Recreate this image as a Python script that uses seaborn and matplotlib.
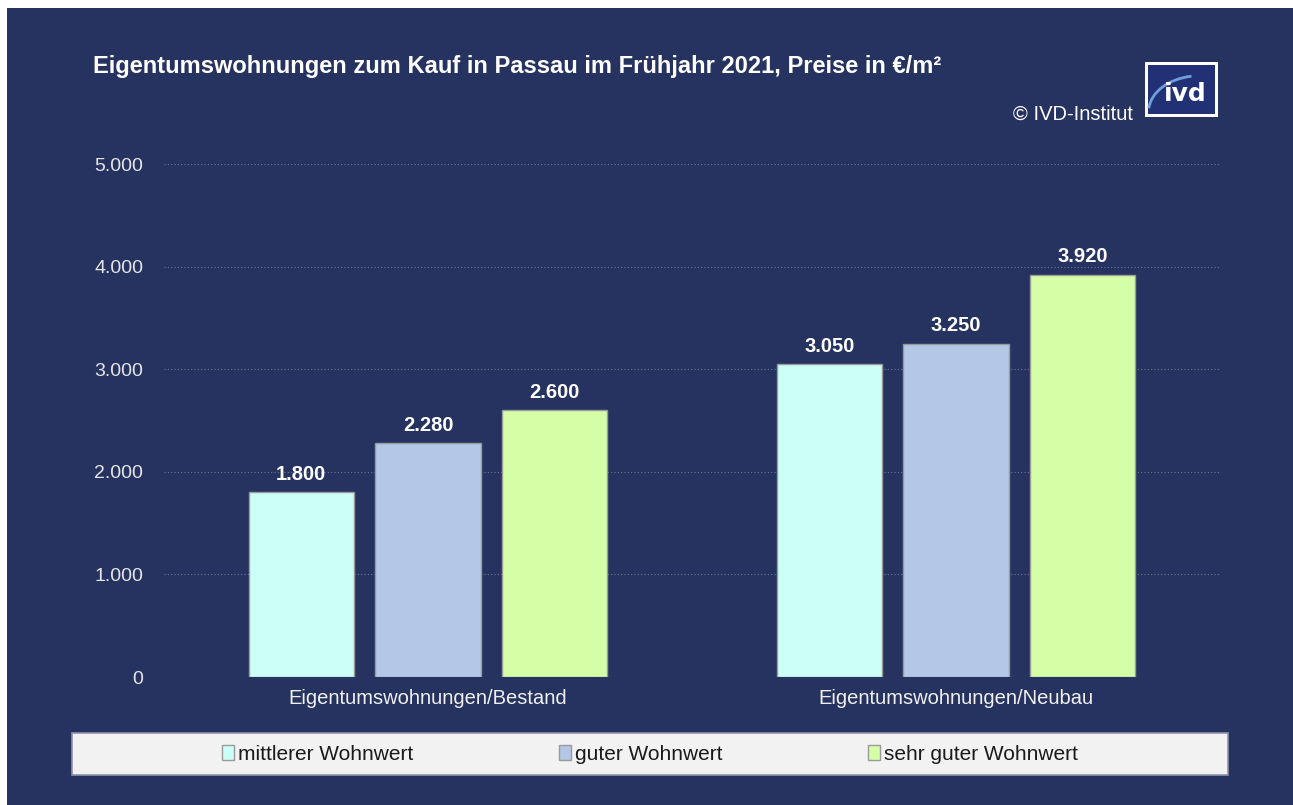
import pandas as pd
import seaborn as sns
import matplotlib.pyplot as plt
from matplotlib.patches import Rectangle, Arc

# data
categories = ["Eigentumswohnungen/Bestand", "Eigentumswohnungen/Neubau"]
wohnwert = ["mittlerer Wohnwert", "guter Wohnwert", "sehr guter Wohnwert"]
mittlerer = [1800, 3050]
guter = [2280, 3250]
sehr_guter = [2600, 3920]
yticks = [0, 1000, 2000, 3000, 4000, 5000]

colors = ["#ccfff7", "#b4c7e7", "#d5ffa6"]
bg = "#263360"
W, H = 1293, 805

df = pd.DataFrame({
    "kategorie": categories * 3,
    "wohnwert": [w for w in wohnwert for _ in categories],
    "preis": mittlerer + guter + sehr_guter,
})

sns.set_style("white")
plt.rcParams["font.family"] = ["Liberation Sans", "DejaVu Sans"]

fig = plt.figure(figsize=(W / 100, H / 100), dpi=100, facecolor="white")
# dark panel (the screenshot has a thin white margin top/left)
fig.patches.append(Rectangle((7 / W, 0), 1 - 7 / W, 1 - 8 / H, transform=fig.transFigure,
                             facecolor=bg, edgecolor="none", zorder=-10))

def px(x0, y0, x1, y1):
    return [x0 / W, 1 - y1 / H, (x1 - x0) / W, (y1 - y0) / H]

ax = fig.add_axes(px(164, 164, 1220, 677))
ax.set_facecolor(bg)
sns.barplot(data=df, x="kategorie", y="preis", hue="wohnwert", hue_order=wohnwert,
            palette=colors, saturation=1, width=0.72, gap=0.167, edgecolor="#9a9a9a",
            linewidth=1, ax=ax, zorder=3)
ax.set_xlim(-0.5, 1.5)
ax.set_ylim(0, 5000)
ax.set_yticks(yticks)
ax.set_yticklabels([f"{v:,}".replace(",", ".") for v in yticks])
ax.grid(axis="y", color="#6b7794", linestyle=(0, (1, 2)), linewidth=0.8, zorder=0)
ax.set_xlabel("")
ax.set_ylabel("")
for s in ax.spines.values():
    s.set_visible(False)
ax.tick_params(axis="y", colors="#e6e6e6", labelsize=14, length=0, pad=15)
ax.tick_params(axis="x", colors="#f0f0f0", labelsize=14.5, length=0, pad=9)

for c in ax.containers:
    ax.bar_label(c, labels=[f"{v:,.0f}".replace(",", ".") for v in c.datavalues],
                 color="white", fontweight="bold", fontsize=14.5, padding=6)

handles, labels = ax.get_legend_handles_labels()
ax.get_legend().remove()

# legend band
fig.patches.append(Rectangle((72 / W, 1 - 775 / H), (1228 - 72) / W, 42 / H,
                             transform=fig.transFigure, facecolor="#f2f2f2",
                             edgecolor="#8e93a8", linewidth=1.2, zorder=1))
leg = fig.legend(handles, labels, loc="center", bbox_to_anchor=(650 / W, 1 - 754 / H),
                 ncol=3, frameon=False, fontsize=15, handlelength=0.55, handleheight=0.75,
                 handletextpad=0.2, columnspacing=7.0)
for t in leg.get_texts():
    t.set_color("#1a1a1a")

fig.text(93 / W, 1 - 66 / H, "Eigentumswohnungen zum Kauf in Passau im Frühjahr 2021, Preise in €/m²",
         color="white", fontsize=17, fontweight="bold", va="center", ha="left")
fig.text(1133 / W, 1 - 114 / H, "© IVD-Institut", color="white", fontsize=14.5,
         va="center", ha="right")

# ivd logo
lax = fig.add_axes(px(1145, 62, 1218, 117))
lax.set_xlim(0, 1)
lax.set_ylim(0, 1)
lax.axis("off")
lax.add_patch(Rectangle((0, 0), 1, 1, facecolor="white", edgecolor="none"))
lax.add_patch(Rectangle((0.04, 0.05), 0.92, 0.9, facecolor="#223075", edgecolor="none"))
lax.add_patch(Arc((0.75, 0.1), 1.4, 1.3, theta1=100, theta2=175, color="#6f9fd8", linewidth=2))
lax.text(0.55, 0.42, "ivd", color="white", fontsize=18, fontweight="bold",
         ha="center", va="center", family="DejaVu Sans")

fig.savefig("out.png", dpi=100, facecolor=fig.get_facecolor())
